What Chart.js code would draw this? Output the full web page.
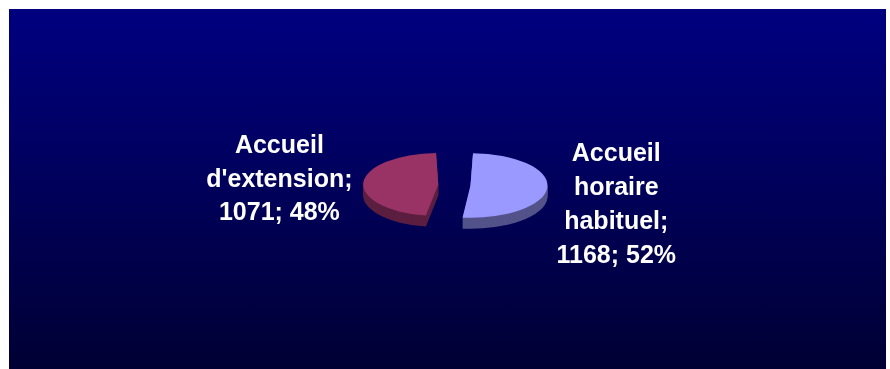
<!DOCTYPE html>
<html>
<head>
<meta charset="utf-8">
<script src="https://cdn.jsdelivr.net/npm/chart.js@4/dist/chart.umd.min.js"></script>
<style>
  html, body { margin: 0; background: #fff; }
  #cadre {
    position: absolute; left: 9px; top: 9px; width: 877px; height: 360px;
    background: linear-gradient(#000080, #000034);
  }
</style>
</head>
<body>
<div id="cadre"><canvas id="camembert"></canvas></div>
<script>
// Répartition des accueils (lignes de l'étiquette par catégorie)
const categories = [['Accueil', 'horaire', 'habituel'], ['Accueil', "d'extension"]];
const effectifs = [1168, 1071];
const couleurs = ['#9999FF', '#993366'];
const couleursFlanc = ['#53538A', '#5C1F40'];

const INCLINAISON = 0.42;   // écrasement vertical du disque
const EPAISSEUR = 11;       // hauteur du flanc en px
const INTERLIGNE = 33.8;

// applique la perspective autour du centre du camembert
function aplatir(ctx, x, y, dy) {
  ctx.translate(x, y + dy);
  ctx.scale(1, INCLINAISON);
  ctx.translate(-x, -y);
}

const relief3D = {
  id: 'relief3D',
  beforeDatasetsDraw(chart) {
    const ctx = chart.ctx;
    const arcs = chart.getDatasetMeta(0).data;
    const { x, y } = arcs[0];
    // flancs : copies sombres empilées sous la face supérieure
    for (let d = EPAISSEUR; d > 0; d--) {
      ctx.save();
      aplatir(ctx, x, y, d);
      arcs.forEach((arc, i) => {
        const copie = Object.assign(Object.create(Object.getPrototypeOf(arc)), arc);
        copie.options = Object.assign({}, arc.options, { backgroundColor: couleursFlanc[i] });
        copie.draw(ctx);
      });
      ctx.restore();
    }
    ctx.save();
    aplatir(ctx, x, y, 0);
  },
  afterDatasetsDraw(chart) {
    chart.ctx.restore();
  }
};

const etiquettes = {
  id: 'etiquettes',
  afterDraw(chart) {
    const ctx = chart.ctx;
    const arcs = chart.getDatasetMeta(0).data;
    const total = effectifs.reduce((a, b) => a + b, 0);
    ctx.save();
    ctx.font = 'bold 25px "Liberation Sans", Arial, sans-serif';
    ctx.fillStyle = '#ffffff';
    ctx.textAlign = 'center';
    ctx.textBaseline = 'alphabetic';
    arcs.forEach((arc, i) => {
      const lignes = categories[i].slice();
      lignes[lignes.length - 1] += ';';
      lignes.push(effectifs[i] + '; ' + Math.round(effectifs[i] * 100 / total) + '%');
      const largeur = Math.max(...lignes.map(l => ctx.measureText(l).width));
      const angle = (arc.startAngle + arc.endAngle) / 2;
      const droite = Math.cos(angle) >= 0;
      const dx = 102 + largeur / 2;
      const px = arc.x + (droite ? dx : -dx);
      const y0 = arc.y + (droite ? 27 : 1.5) - (lignes.length - 1) * INTERLIGNE / 2;
      lignes.forEach((l, j) => ctx.fillText(l, px, y0 + j * INTERLIGNE));
    });
    ctx.restore();
  }
};

new Chart(document.getElementById('camembert'), {
  type: 'pie',
  data: {
    labels: categories.map(c => c.join(' ')),
    datasets: [{
      data: effectifs,
      backgroundColor: couleurs,
      borderWidth: 0,
      offset: [64, 65],
      clip: false
    }]
  },
  options: {
    responsive: true,
    maintainAspectRatio: false,
    animation: false,
    radius: 61,
    layout: { padding: { left: 14, right: 0, top: 0, bottom: 8 } },
    plugins: {
      legend: { display: false },
      tooltip: { enabled: false }
    }
  },
  plugins: [relief3D, etiquettes]
});
</script>
</body>
</html>
